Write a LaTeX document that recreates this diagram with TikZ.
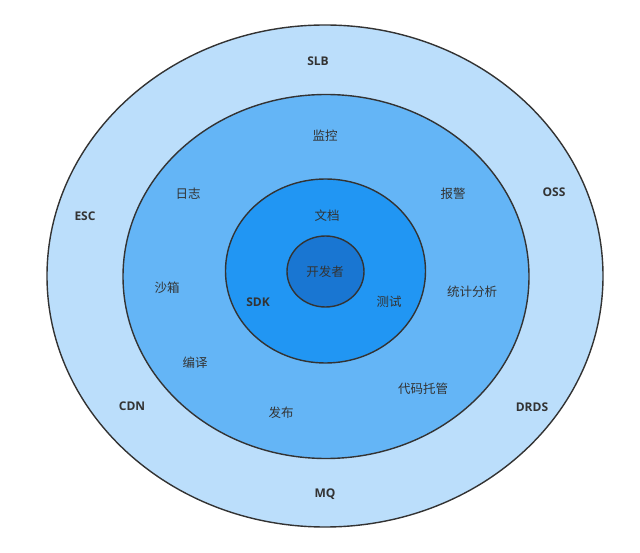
\documentclass[tikz,border=0pt]{standalone}
\usepackage{fontspec}
\setmainfont{Noto Sans CJK SC}
\newfontfamily\latinbold{Open Sans}
\definecolor{ringA}{HTML}{BBDEFB}
\definecolor{ringB}{HTML}{64B5F6}
\definecolor{ringC}{HTML}{2196F3}
\definecolor{ringD}{HTML}{1976D2}
\definecolor{inkgray}{HTML}{333333}
\begin{document}
\begin{tikzpicture}[x=1pt,y=-1pt,
  ring/.style={draw=inkgray,line width=1.4pt},
  lab/.style={text=inkgray,font=\fontsize{12.5}{14}\selectfont,inner sep=0pt},
  elab/.style={text=inkgray,font=\latinbold\bfseries\fontsize{12}{14}\selectfont,inner sep=0pt}]
\useasboundingbox (0,0) rectangle (640,553);
\path[ring,fill=ringA] (325,276) ellipse [x radius=278,y radius=251];
\path[ring,fill=ringB] (326,276.5) ellipse [x radius=203,y radius=182];
\path[ring,fill=ringC] (325.5,271) ellipse [x radius=100,y radius=92];
\path[ring,fill=ringD] (325.5,271.5) ellipse [x radius=38.5,y radius=35.5];
% outer ring labels
\node[elab] (slb) at (318,61) {SLB};
\node[elab] (oss) at (554,192) {OSS};
\node[elab] (esc) at (85,216) {ESC};
\node[elab] (cdn) at (132,406) {CDN};
\node[elab] (mq) at (325,494) {MQ};
\node[elab] (drds) at (532,407) {DRDS};
% second ring labels
\node[lab] (jk) at (325,136) {监控};
\node[lab] (rz) at (188,194) {日志};
\node[lab] (bj) at (453,194) {报警};
\node[lab] (sx) at (167,288) {沙箱};
\node[lab] (tj) at (472,292) {统计分析};
\node[lab] (by) at (195,363) {编译};
\node[lab] (dm) at (423,389) {代码托管};
\node[lab] (fb) at (281,413) {发布};
% third ring labels
\node[lab] (wd) at (327,216) {文档};
\node[elab] (sdk) at (258,302) {SDK};
\node[lab] (cs) at (389,302) {测试};
% centre
\node[lab] (kfz) at (325,272) {开发者};
\end{tikzpicture}
\end{document}
